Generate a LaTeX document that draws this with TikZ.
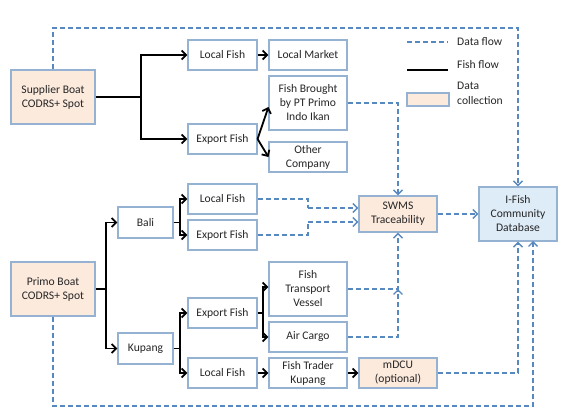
\documentclass[tikz,border=0pt]{standalone}
\usepackage{fontspec}
\setmainfont{Carlito}
\usetikzlibrary{arrows.meta,calc}
\definecolor{bord}{RGB}{150,178,210}
\definecolor{peach}{RGB}{252,234,221}
\definecolor{ice}{RGB}{222,236,247}
\definecolor{dflow}{RGB}{88,136,192}
\tikzset{
  box/.style={draw=bord,line width=1.1pt,fill=white,inner sep=0pt,align=center,
    font=\fontsize{11.6}{14}\selectfont,text=black!85},
  w69/.style={minimum width=69pt,minimum height=30pt},
  w78/.style={minimum width=78pt,minimum height=30pt},
  tall/.style={minimum width=78pt,minimum height=54pt},
  fish/.style={line width=1.8pt,black},
  fa/.style={fish,-{Straight Barb[length=4.5pt,width=9pt,line width=1.8pt]}},
  data/.style={line width=1.4pt,dflow,dash pattern=on 5pt off 3pt},
  da/.style={data,-{Straight Barb[length=4.5pt,width=9pt,line width=1.4pt]}},
  lbl/.style={font=\fontsize{11.6}{15}\selectfont,text=black!85,anchor=west,align=left,inner sep=0pt}
}
\begin{document}
\begin{tikzpicture}[x=1pt,y=-1pt]
\useasboundingbox (0,0) rectangle (568,418);
% nodes
\node[box,fill=peach,minimum width=84pt,minimum height=54pt] (sup) at (53,97) {Supplier Boat\\CODRS+ Spot};
\node[box,w69] (lf1) at (222.5,55) {Local Fish};
\node[box,w78] (lm) at (308,55) {Local Market};
\node[box,tall] (fb) at (308,103) {Fish Brought\\by PT Primo\\Indo Ikan};
\node[box,w69] (ef1) at (222.5,139) {Export Fish};
\node[box,w78] (oc) at (308,157) {Other\\Company};
\node[box,minimum width=55pt,minimum height=31pt] (bali) at (145.5,222.5) {Bali};
\node[box,w69] (lf2) at (222.5,199) {Local Fish};
\node[box,w69] (ef2) at (222.5,235) {Export Fish};
\node[box,fill=peach,minimum width=84pt,minimum height=54pt] (primo) at (53,289) {Primo Boat\\CODRS+ Spot};
\node[box,minimum width=55pt,minimum height=31pt] (kup) at (145.5,348.5) {Kupang};
\node[box,w69] (ef3) at (222.5,313) {Export Fish};
\node[box,w69] (lf3) at (222.5,373) {Local Fish};
\node[box,tall] (ftv) at (308,289) {Fish\\Transport\\Vessel};
\node[box,w78] (ac) at (308,337) {Air Cargo};
\node[box,w78] (ftk) at (308,373) {Fish Trader\\Kupang};
\node[box,fill=peach,minimum width=78pt,minimum height=36pt] (swms) at (398,214) {SWMS\\Traceability};
\node[box,fill=peach,w78] (mdcu) at (398,373) {mDCU\\(optional)};
\node[box,fill=ice,tall] (ifish) at (518,214) {I-Fish\\Community\\Database};
% legend
\coordinate (l1a) at (407,42); \coordinate (l1b) at (448,42);
\coordinate (l2a) at (407,70); \coordinate (l2b) at (448,70);
\draw[data] (l1a) -- (l1b);
\draw[fish] (l2a) -- (l2b);
\node[lbl] (t1) at (457,42) {Data flow};
\node[lbl] (t2) at (457,65) {Fish flow};
\node[draw=bord,line width=1.1pt,fill=peach,minimum width=42pt,minimum height=13pt,inner sep=0pt] (lb) at (428,99.5) {};
\node[lbl] (t3) at (457,93.5) {Data\\collection};
% supplier fish flow
\coordinate (j1) at (141,97);
\draw[fish] (sup.east) -- (j1);
\draw[fa] (j1) |- (lf1.west);
\draw[fa] (j1) |- (ef1.west);
\draw[fa] (lf1.east) -- (lm.west);
\draw[fa] (ef1.east) -- ($(fb.west)+(0,4)$);
\draw[fa] (ef1.east) -- (oc.west);
% primo fish flow
\coordinate (jp) at (106,289);
\draw[fish] (primo.east) -- (jp);
\draw[fa] (jp) |- (bali.west);
\draw[fa] (jp) |- (kup.west);
\coordinate (jb) at (180,222.5);
\draw[fish] (bali.east) -- (jb);
\draw[fa] (jb) |- (lf2.west);
\draw[fa] (jb) |- (ef2.west);
\coordinate (jk) at (180,348.5);
\draw[fish] (kup.east) -- (jk);
\draw[fa] (jk) |- (ef3.west);
\draw[fa] (jk) |- (lf3.west);
\coordinate (je) at (263,313);
\draw[fish] (ef3.east) -- (je);
\draw[fa] (je) |- ($(ftv.west)+(0,-2)$);
\draw[fa] (je) |- (ac.west);
\draw[fa] (lf3.east) -- (ftk.west);
\draw[fa] (ftk.east) -- (mdcu.west);
% data flow
\coordinate (top) at (53,28);
\draw[da] (sup.north) -- (top) -| (ifish.north);
\draw[da] (fb.east) -| (swms.north);
\draw[da] (swms.east) -- (ifish.west);
\coordinate (c1) at (308,208);
\coordinate (c2) at (308,222);
\draw[data] (lf2.east) -| (c1);
\draw[da] (c1) -- ($(swms.west)+(0,-6)$);
\draw[data] (ef2.east) -| (c2);
\draw[da] (c2) -- ($(swms.west)+(0,8)$);
\coordinate (cj) at (398,289);
\draw[da] (ftv.east) -| (swms.south);
\draw[da] (ac.east) -| (cj);
\draw[da] (mdcu.east) -| (ifish.south);
\coordinate (pb) at (53,406);
\coordinate (ib) at (533,241);
\draw[da] (primo.south) -- (pb) -| (ib);
\end{tikzpicture}
\end{document}
